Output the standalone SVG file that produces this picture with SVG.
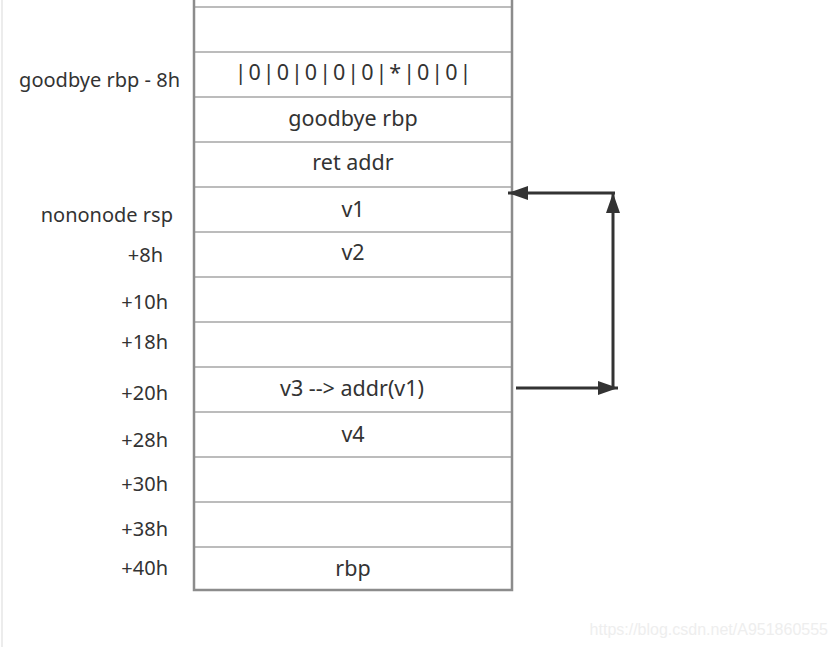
<svg xmlns="http://www.w3.org/2000/svg" width="835" height="647" viewBox="0 0 835 647">
<style>
.t{font-family:"Noto Sans","Open Sans",sans-serif;font-size:20px;fill:#333;}
.cell{font-size:21.5px;}
.c{text-anchor:middle;}
.r{text-anchor:end;}
.row{stroke:#a6a6a6;stroke-width:1.5;fill:none;}
.conn{stroke:#333;stroke-width:3;fill:none;}
</style>
<defs>
<marker id="ahb" viewBox="0 0 20 14" refX="20" refY="7" markerWidth="20" markerHeight="14" orient="auto" markerUnits="userSpaceOnUse">
<path d="M0,0 L20,7 L0,14 Z" fill="#333"/>
</marker>
</defs>
<rect width="835" height="647" fill="#fff"/>
<line x1="2" y1="0" x2="2" y2="647" stroke="#ececec" stroke-width="2"/>
<g id="stack">
<line class="row" x1="194" y1="7" x2="512" y2="7"/>
<line class="row" x1="194" y1="52" x2="512" y2="52"/>
<line class="row" x1="194" y1="97" x2="512" y2="97"/>
<line class="row" x1="194" y1="142" x2="512" y2="142"/>
<line class="row" x1="194" y1="187" x2="512" y2="187"/>
<line class="row" x1="194" y1="232" x2="512" y2="232"/>
<line class="row" x1="194" y1="277" x2="512" y2="277"/>
<line class="row" x1="194" y1="322" x2="512" y2="322"/>
<line class="row" x1="194" y1="367" x2="512" y2="367"/>
<line class="row" x1="194" y1="412" x2="512" y2="412"/>
<line class="row" x1="194" y1="457" x2="512" y2="457"/>
<line class="row" x1="194" y1="502" x2="512" y2="502"/>
<line class="row" x1="194" y1="547" x2="512" y2="547"/>
<path d="M194,-2 L194,590 L512,590 L512,-2" stroke="#8c8c8c" stroke-width="2.5" fill="none"/>
</g>
<g id="cells">
<text class="t cell c" x="354" y="80" style="letter-spacing:2px">|0|0|0|0|0|*|0|0|</text>
<text class="t cell c" x="353" y="126">goodbye rbp</text>
<text class="t cell c" x="353" y="170">ret addr</text>
<text class="t cell c" x="353" y="217">v1</text>
<text class="t cell c" x="353" y="260">v2</text>
<text class="t cell c" x="352" y="396">v3 --&gt; addr(v1)</text>
<text class="t cell c" x="353" y="442">v4</text>
<text class="t cell c" x="353" y="576">rbp</text>
</g>
<g id="labels">
<text class="t r" x="180" y="87">goodbye rbp - 8h</text>
<text class="t r" x="173" y="222">nononode rsp</text>
<text class="t r" x="163" y="262">+8h</text>
<text class="t r" x="168" y="309">+10h</text>
<text class="t r" x="168" y="349">+18h</text>
<text class="t r" x="168" y="400">+20h</text>
<text class="t r" x="168" y="447">+28h</text>
<text class="t r" x="168" y="491">+30h</text>
<text class="t r" x="168" y="536">+38h</text>
<text class="t r" x="168" y="575">+40h</text>
</g>
<g id="connectors">
<path class="conn" d="M516,388 L618,388" marker-end="url(#ahb)"/>
<path class="conn" d="M613,388 L613,193" marker-end="url(#ahb)"/>
<path class="conn" d="M615,193 L508,193" marker-end="url(#ahb)"/>
</g>
<text x="828" y="635" text-anchor="end" style="font-family:'Liberation Sans',sans-serif;font-size:16px;fill:#eeeeee;">https://blog.csdn.net/A951860555</text>
</svg>
